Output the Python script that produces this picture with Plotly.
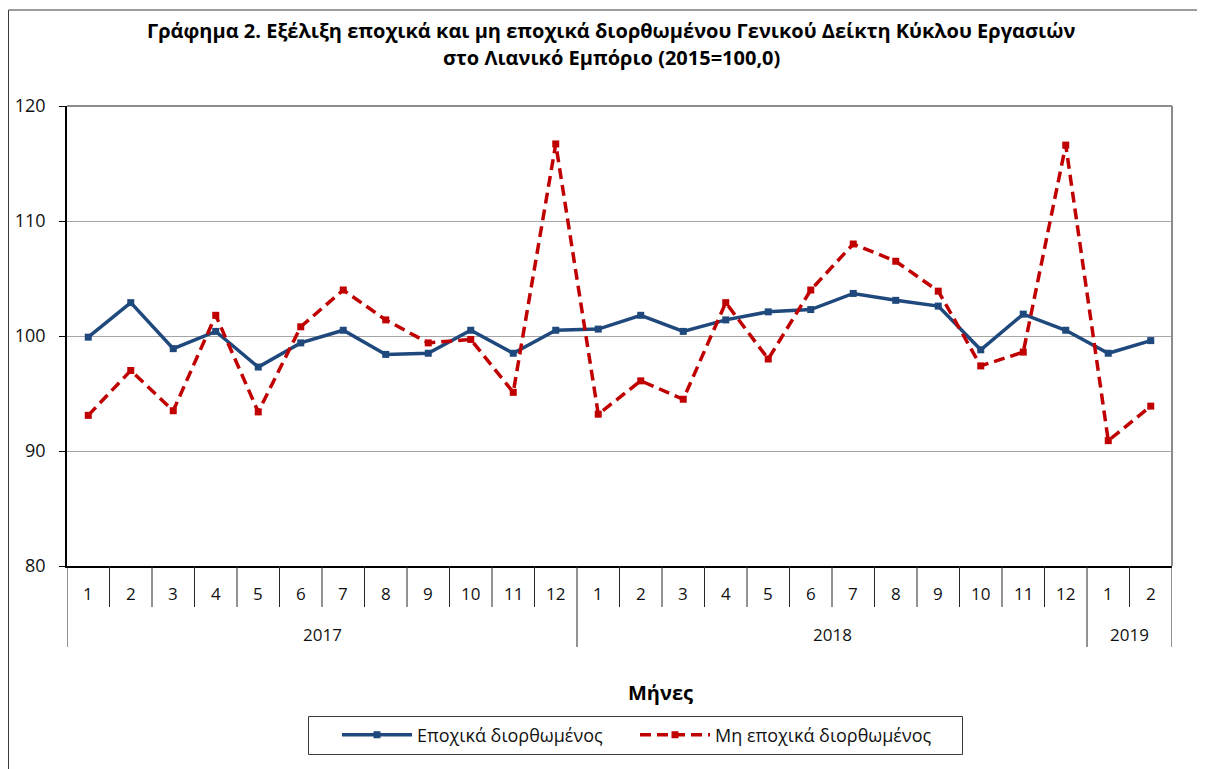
import plotly.graph_objects as go

# ---- data ----
months = [1, 2, 3, 4, 5, 6, 7, 8, 9, 10, 11, 12,
          1, 2, 3, 4, 5, 6, 7, 8, 9, 10, 11, 12,
          1, 2]
years = [2017] * 12 + [2018] * 12 + [2019] * 2
year_labels = ["2017", "2018", "2019"]
seasonally_adjusted = [99.9, 102.9, 98.9, 100.4, 97.3, 99.4, 100.5, 98.4, 98.5, 100.5, 98.5, 100.5,
                       100.6, 101.8, 100.4, 101.4, 102.1, 102.3, 103.7, 103.1, 102.6, 98.8, 101.9, 100.5,
                       98.5, 99.6]
not_adjusted = [93.1, 97.0, 93.5, 101.8, 93.4, 100.8, 104.0, 101.4, 99.4, 99.7, 95.1, 116.7,
                93.2, 96.1, 94.5, 102.9, 98.0, 104.0, 108.0, 106.5, 103.9, 97.4, 98.6, 116.6,
                90.9, 93.9]
series_names = ["Εποχικά διορθωμένος", "Μη εποχικά διορθωμένος"]
title_lines = ["Γράφημα 2. Εξέλιξη εποχικά και μη εποχικά διορθωμένου Γενικού Δείκτη Κύκλου Εργασιών",
               "στο Λιανικό Εμπόριο (2015=100,0)"]
x_title = "Μήνες"

cats = [f"{y}-{m}" for y, m in zip(years, months)]

OFF = 8  # page body margin
W, H = 1205 - OFF, 769 - OFF
# plot area in screen px: x 67..1172, y 106..566
L, R, T, B = 67 - OFF, 1205 - 1172, 106 - OFF, 769 - 566
PW, PH = W - L - R, H - T - B


def px_x(px):
    return (px - OFF - L) / PW


def px_y(py):
    return (H - B - (py - OFF)) / PH


FONT = "Open Sans"
BLUE = "#1F497D"
RED = "#C00000"
TXT = "#111111"

fig = go.Figure()
fig.add_trace(go.Scatter(x=cats, y=seasonally_adjusted, name=series_names[0], mode="lines+markers",
                         line=dict(color=BLUE, width=3.5),
                         marker=dict(symbol="square", size=7, color=BLUE)))
fig.add_trace(go.Scatter(x=cats, y=not_adjusted, name=series_names[1], mode="lines+markers",
                         line=dict(color=RED, width=3.5, dash="11px,6px"),
                         marker=dict(symbol="square", size=7, color=RED)))

shapes = []
# plot area top/right border
shapes.append(dict(type="line", xref="paper", yref="paper", x0=0, x1=1, y0=1, y1=1,
                   line=dict(color="#8C8C8C", width=2)))
shapes.append(dict(type="line", xref="paper", yref="paper", x0=1, x1=1, y0=0, y1=1,
                   line=dict(color="#8C8C8C", width=2)))
# outer chart border (left edge as close to the page edge as the figure allows)
shapes.append(dict(type="rect", xref="paper", yref="paper", x0=px_x(OFF + 0.5), x1=px_x(1215),
                   y0=px_y(780), y1=px_y(10), line=dict(color="#3A3A3A", width=1)))
# legend frame
shapes.append(dict(type="rect", xref="paper", yref="paper", x0=px_x(308.5), x1=px_x(962.5),
                   y0=px_y(754.5), y1=px_y(716.5), line=dict(color="#3A3A3A", width=1)))

n = len(cats)
# month boundaries
for i in range(n + 1):
    shapes.append(dict(type="line", xref="x", yref="paper", x0=i - 0.5, x1=i - 0.5,
                       y0=px_y(566), y1=px_y(607), line=dict(color="#262626", width=1)))
# year boundaries
bounds = [0]
for i in range(1, n):
    if years[i] != years[i - 1]:
        bounds.append(i)
bounds.append(n)
for b in bounds:
    shapes.append(dict(type="line", xref="x", yref="paper", x0=b - 0.5, x1=b - 0.5,
                       y0=px_y(607), y1=px_y(647), line=dict(color="#262626", width=1)))

annotations = []
for i, m in enumerate(months):
    annotations.append(dict(x=i, y=px_y(593), xref="x", yref="paper", text=str(m), showarrow=False,
                            font=dict(family=FONT, size=17, color=TXT), yanchor="middle"))
for k in range(len(bounds) - 1):
    c = (bounds[k] + bounds[k + 1] - 1) / 2
    annotations.append(dict(x=c, y=px_y(634), xref="x", yref="paper", text=year_labels[k],
                            showarrow=False, font=dict(family=FONT, size=17, color=TXT),
                            yanchor="middle"))
annotations.append(dict(x=px_x(611), y=px_y(30), xref="paper", yref="paper", text="<b>%s</b>" % title_lines[0],
                        showarrow=False, font=dict(family=FONT, size=20, color="#000"), yanchor="middle"))
annotations.append(dict(x=px_x(611), y=px_y(58), xref="paper", yref="paper", text="<b>%s</b>" % title_lines[1],
                        showarrow=False, font=dict(family=FONT, size=20, color="#000"), yanchor="middle"))
annotations.append(dict(x=px_x(660), y=px_y(692), xref="paper", yref="paper", text="<b>%s</b>" % x_title,
                        showarrow=False, font=dict(family=FONT, size=20, color="#000"), yanchor="middle"))

fig.update_layout(
    width=W, height=H,
    margin=dict(l=L, r=R, t=T, b=B, autoexpand=False),
    paper_bgcolor="white", plot_bgcolor="white",
    font=dict(family=FONT, color=TXT),
    showlegend=True,
    legend=dict(orientation="h", x=px_x(635), xanchor="center", y=px_y(735), yanchor="middle",
                borderwidth=0, bgcolor="rgba(0,0,0,0)",
                font=dict(family=FONT, size=18, color=TXT), itemwidth=70,
                entrywidth=213),
    shapes=shapes, annotations=annotations,
    xaxis=dict(type="category", categoryorder="array", categoryarray=cats, range=[-0.5, n - 0.5],
               showticklabels=False, ticks="", showgrid=False, zeroline=False,
               showline=True, linecolor="#000", linewidth=1.5),
    yaxis=dict(range=[80, 120], dtick=10, tick0=80, ticks="outside", ticklen=6, tickcolor="#000",
               showline=True, linecolor="#000", linewidth=1.5, showgrid=True, gridcolor="#A6A6A6",
               gridwidth=1, zeroline=False, tickfont=dict(family=FONT, size=18, color=TXT),
               ticklabelstandoff=10),
)

fig.write_html("out.html")
